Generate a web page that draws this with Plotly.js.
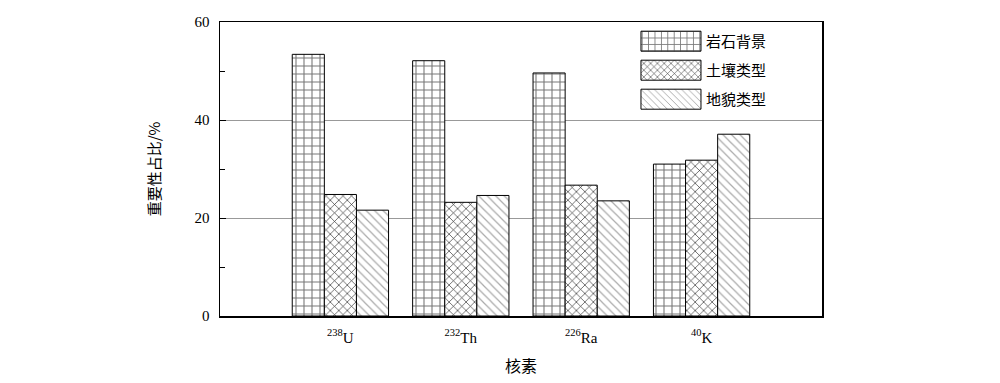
<!DOCTYPE html>
<html>
<head>
<meta charset="utf-8">
<script src="https://cdn.plot.ly/plotly-3.0.1.min.js"></script>
<style>html,body{margin:0;padding:0;background:#fff;}</style>
</head>
<body>
<div id="chart" style="width:1000px;height:383px;"></div>
<script>
const categories = ["<sup>238</sup>U", "<sup>232</sup>Th", "<sup>226</sup>Ra", "<sup>40</sup>K"];
const seriesNames = ["岩石背景", "土壤类型", "地貌类型"];
const rockValues = [53.4, 52.1, 49.6, 31.0];
const soilValues = [24.8, 23.2, 26.7, 31.8];
const landformValues = [21.6, 24.6, 23.5, 37.1];
const yTickVals = [0, 20, 40, 60];

const serif = '"Liberation Serif", "Noto Sans CJK SC", serif';
const cjk = '"Noto Sans CJK SC", "Liberation Serif", serif';

const patterns = [
  {shape: '+', fgcolor: '#777', bgcolor: '#fff', size: 8, solidity: 0.25},
  {shape: 'x', fgcolor: '#222', bgcolor: '#fff', size: 6, solidity: 0.2},
  {shape: '\\', fgcolor: '#aaa', bgcolor: '#fff', size: 6, solidity: 0.2}
];
const valueSets = [rockValues, soilValues, landformValues];

const traces = valueSets.map((vals, i) => ({
  type: 'bar',
  name: seriesNames[i],
  legendgroup: 'g' + i,
  x: categories,
  y: vals,
  marker: {
    color: '#fff',
    line: {color: '#000', width: 1},
    pattern: patterns[i]
  }
}));

const layout = {
  width: 1000, height: 383,
  margin: {l: 220, r: 178, t: 22, b: 67},
  paper_bgcolor: '#fff', plot_bgcolor: '#fff',
  barmode: 'group', bargap: 0.2, bargroupgap: 0,
  showlegend: true,
  legend: {
    x: 0.691, y: 0.99, xanchor: 'left', yanchor: 'top',
    font: {family: cjk, size: 15, color: '#000'},
    bgcolor: 'rgba(0,0,0,0)', tracegroupgap: 6.5, itemwidth: 60
  },
  xaxis: {
    type: 'category',
    range: [-1, 4],
    showline: true, linecolor: '#000', linewidth: 1.5, mirror: true,
    ticks: '', showgrid: false, zeroline: false,
    ticklabelstandoff: 7,
    tickfont: {family: serif, size: 15, color: '#000'},
    title: {text: '核素', font: {family: cjk, size: 16, color: '#000'}, standoff: 16}
  },
  yaxis: {
    range: [0, 60],
    tickvals: yTickVals,
    ticks: 'inside', ticklen: 6, tickcolor: '#000', tickwidth: 1,
    showline: true, linecolor: '#000', linewidth: 1.5, mirror: true,
    showgrid: true, gridcolor: '#999', gridwidth: 1,
    zeroline: false,
    ticklabelstandoff: 6,
    minor: {dtick: 10, ticks: 'inside', ticklen: 5, tickcolor: '#000', showgrid: false},
    tickfont: {family: serif, size: 15, color: '#000'},
    title: {text: '重要性占比/%', font: {family: cjk, size: 15, color: '#000'}, standoff: 30}
  }
};

Plotly.newPlot('chart', traces, layout, {displayModeBar: false, staticPlot: true}).then(gd => {
  // widen the legend swatches to match the reference's long patches
  gd.querySelectorAll('.legend .legendpoints path').forEach(p => {
    p.setAttribute('d', 'M30,10H-30V-10H30Z');
    p.style.strokeWidth = '1px';
  });
});
</script>
</body>
</html>
